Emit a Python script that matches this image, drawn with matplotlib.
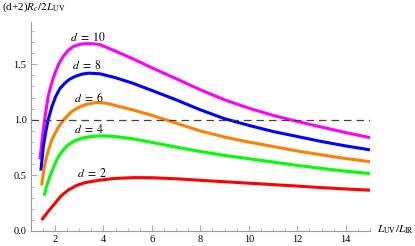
import matplotlib
matplotlib.use("Agg")
import matplotlib.pyplot as plt
from matplotlib.ticker import MultipleLocator

plt.rcParams['font.family'] = ['Liberation Serif', 'DejaVu Serif']
plt.rcParams['mathtext.fontset'] = 'stix'

# values
x_d10 = [1.38, 1.45, 1.52, 1.62, 1.72, 1.85, 2.0, 2.15, 2.34, 2.55, 2.76, 3.0, 3.31, 3.6, 3.86,
         4.48, 5.2, 5.93, 7.0, 8.0, 9.0, 10.0, 11.0, 12.0, 13.0, 14.0, 15.0]
y_d10 = [0.646, 0.78, 0.91, 1.07, 1.21, 1.32, 1.42, 1.50, 1.57, 1.625, 1.66, 1.678, 1.686, 1.684, 1.676,
         1.62, 1.55, 1.475, 1.37, 1.27, 1.18, 1.105, 1.04, 0.985, 0.935, 0.885, 0.84]

x_d8 = [1.42, 1.47, 1.52, 1.62, 1.72, 1.87, 2.03, 2.2, 2.41, 2.6, 2.83, 3.1, 3.38, 3.86,
        4.48, 5.2, 5.93, 7.0, 8.0, 9.0, 10.0, 11.0, 12.0, 13.0, 14.0, 15.0]
y_d8 = [0.543, 0.65, 0.76, 0.89, 1.0, 1.115, 1.21, 1.28, 1.33, 1.365, 1.39, 1.41, 1.42, 1.414,
        1.38, 1.33, 1.27, 1.18, 1.09, 1.01, 0.95, 0.895, 0.85, 0.805, 0.765, 0.73]

x_d6 = [1.45, 1.52, 1.59, 1.72, 1.87, 2.1, 2.38, 2.69, 3.0, 3.3, 3.72, 4.1, 4.48, 5.2, 5.93,
        7.0, 8.0, 9.0, 10.0, 11.0, 12.0, 13.0, 14.0, 15.0]
y_d6 = [0.41, 0.52, 0.61, 0.72, 0.82, 0.92, 1.005, 1.075, 1.115, 1.14, 1.156, 1.15, 1.13, 1.09, 1.045,
        0.97, 0.90, 0.845, 0.80, 0.76, 0.72, 0.685, 0.652, 0.624]

x_d4 = [1.56, 1.65, 1.79, 1.95, 2.14, 2.35, 2.55, 2.8, 3.1, 3.5, 3.93, 4.48, 5.2, 5.93,
        7.0, 8.0, 9.0, 10.0, 11.0, 12.0, 13.0, 14.0, 15.0]
y_d4 = [0.318, 0.40, 0.49, 0.58, 0.67, 0.73, 0.775, 0.81, 0.835, 0.85, 0.856, 0.85, 0.83, 0.80,
        0.755, 0.715, 0.68, 0.65, 0.62, 0.59, 0.563, 0.538, 0.516]

x_d2 = [1.45, 1.7, 2.0, 2.25, 2.55, 2.9, 3.24, 3.86, 4.48, 5.24, 6.0, 7.0, 8.0, 9.0, 10.0,
        11.0, 12.0, 13.0, 14.0, 15.0]
y_d2 = [0.099, 0.17, 0.249, 0.315, 0.369, 0.41, 0.435, 0.458, 0.473, 0.48, 0.479, 0.47, 0.456, 0.443,
        0.43, 0.417, 0.404, 0.39, 0.378, 0.367]

labels = ["$d\\ =\\ 10$", "$d\\ =\\ 8$", "$d\\ =\\ 6$", "$d\\ =\\ 4$", "$d\\ =\\ 2$"]
label_x = [3.38, 3.34, 3.40, 3.43, 3.54]
label_y = [1.745, 1.486, 1.20, 0.91, 0.52]

fig = plt.figure(figsize=(4.15, 2.46), dpi=100)
ax = fig.add_axes([0.074, 0.061, 0.8176, 0.8496])

series = [(x_d10, y_d10, "#ff00ff"), (x_d8, y_d8, "#0000ff"), (x_d6, y_d6, "#ff8000"),
          (x_d4, y_d4, "#00ff00"), (x_d2, y_d2, "#ff0000")]
for xs, ys, c in series:
    ax.plot(xs, ys, color=c, lw=2.2, solid_capstyle='butt', solid_joinstyle='round')

ax.axhline(1.0, color="#404040", lw=0.9, ls=(0, (6, 4)))

for t, lx, ly in zip(labels, label_x, label_y):
    ax.text(lx, ly, t, ha='center', va='center', fontsize=8.5)

ax.set_xlim(1.0, 15.0)
ax.set_ylim(0, 1.88)
ax.xaxis.set_major_locator(MultipleLocator(2))
ax.xaxis.set_minor_locator(MultipleLocator(0.5))
ax.yaxis.set_major_locator(MultipleLocator(0.5))
ax.yaxis.set_minor_locator(MultipleLocator(0.1))
ax.yaxis.set_major_formatter(plt.FuncFormatter(lambda v, p: f"{v:.1f}"))

for s in ['top', 'right']:
    ax.spines[s].set_visible(False)
for s in ['left', 'bottom']:
    ax.spines[s].set_color("#999999")
    ax.spines[s].set_linewidth(0.8)
ax.tick_params(which='both', direction='in', color="#999999", labelsize=7.5, pad=3)
ax.tick_params(which='major', length=4, width=0.6)
ax.tick_params(which='minor', length=2.2, width=0.5)

fig.text(0.005, 0.97, "(d+2)$R_c/2L_{\\rm UV}$", ha='left', va='center', fontsize=8)
fig.text(0.908, 0.065, "$L_{\\rm UV}/L_{\\rm IR}$", ha='left', va='center', fontsize=8)

fig.savefig("out.png", dpi=100)
